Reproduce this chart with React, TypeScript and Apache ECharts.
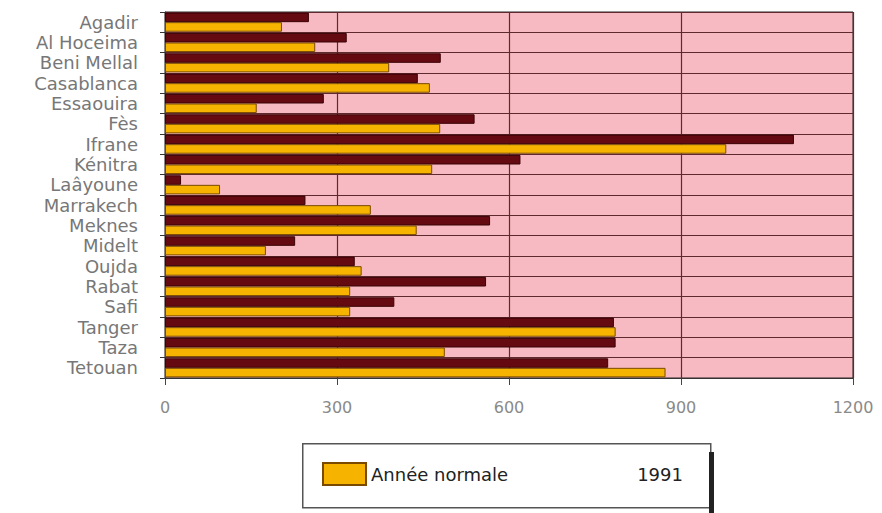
import React, { useEffect, useRef } from "react";
import * as echarts from "echarts";

const cities = [
  "Agadir", "Al Hoceima", "Beni Mellal", "Casablanca", "Essaouira", "Fès",
  "Ifrane", "Kénitra", "Laâyoune", "Marrakech", "Meknes", "Midelt",
  "Oujda", "Rabat", "Safi", "Tanger", "Taza", "Tetouan",
];
const values1991 = [251, 317, 481, 441, 277, 540, 1097, 620, 28, 245, 567, 227, 331, 560, 400, 783, 786, 773];
const valuesNormal = [204, 262, 391, 462, 160, 480, 979, 466, 96, 359, 439, 176, 343, 323, 323, 786, 488, 873];
const xTicks = { min: 0, max: 1200, interval: 300 };

const MAROON = "#650a10";
const ORANGE = "#f6b400";
const PINK = "#f8bac2";
const LINE = "#5e2a2e";

export default function App() {
  const ref = useRef<HTMLDivElement>(null);
  useEffect(() => {
    if (!ref.current) return;
    const chart = echarts.init(ref.current, null, { renderer: "svg" });
    chart.setOption({
      animation: false,
      backgroundColor: "#ffffff",
      textStyle: { fontFamily: "DejaVu Sans, sans-serif" },
      grid: {
        left: 165,
        right: 29,
        top: 12,
        bottom: 135,
        show: true,
        backgroundColor: PINK,
        borderColor: "#2a2a2a",
        borderWidth: 1,
      },
      xAxis: {
        type: "value",
        min: xTicks.min,
        max: xTicks.max,
        interval: xTicks.interval,
        axisLine: { show: true, lineStyle: { color: "#333", width: 1 } },
        axisTick: { show: true, length: 7, lineStyle: { color: "#444" } },
        splitLine: { show: true, lineStyle: { color: LINE, width: 1.2 } },
        axisLabel: {
          color: "#8a8a8a",
          fontSize: 16,
          margin: 21,
          formatter: (v: number) => String(v),
        },
      },
      yAxis: {
        type: "category",
        inverse: true,
        data: cities,
        axisLine: { show: true, lineStyle: { color: "#333", width: 1 } },
        axisTick: { show: true, length: 5, lineStyle: { color: "#333" } },
        splitLine: { show: true, lineStyle: { color: LINE, width: 1.2 } },
        axisLabel: {
          interval: 0,
          color: "#777777",
          fontSize: 18,
          margin: 27,
        },
      },
      legend: {
        left: 322,
        top: 462,
        padding: 0,
        itemWidth: 43,
        itemHeight: 22,
        itemGap: 81,
        textStyle: { color: "#222", fontSize: 18, fontFamily: "DejaVu Sans, sans-serif" },
        data: [
          { name: "Année normale", icon: "rect" },
          { name: "1991", icon: "none" },
        ],
      },
      graphic: [
        {
          type: "rect",
          left: 302,
          top: 443,
          shape: { width: 408, height: 64 },
          style: { fill: "#ffffff", stroke: "#555", lineWidth: 1.5 },
          z: -1,
        },
        {
          type: "rect",
          left: 709,
          top: 452,
          shape: { width: 5, height: 61 },
          style: { fill: "#222" },
          z: -1,
        },
      ],
      series: [
        {
          name: "1991",
          type: "bar",
          data: values1991,
          barGap: "0%",
          barCategoryGap: "6%",
          itemStyle: { color: MAROON, borderColor: "#3a0306", borderWidth: 1 },
        },
        {
          name: "Année normale",
          type: "bar",
          data: valuesNormal,
          itemStyle: { color: ORANGE, borderColor: "#7a4a00", borderWidth: 1 },
        },
      ],
    });
    return () => chart.dispose();
  }, []);
  return (
    <div
      ref={ref}
      style={{ position: "absolute", left: 0, top: 0, width: 882, height: 513 }}
    />
  );
}
